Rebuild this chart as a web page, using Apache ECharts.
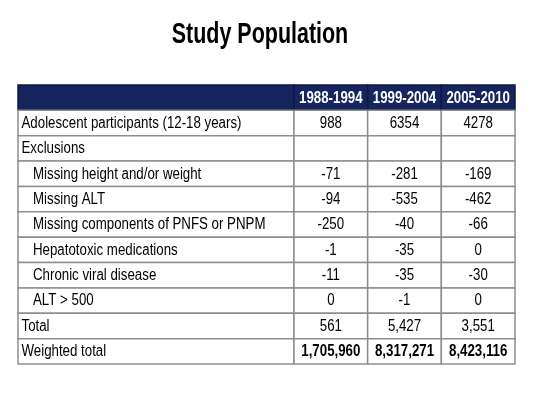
<!DOCTYPE html>
<html><head><meta charset="utf-8">
<script src="https://cdn.jsdelivr.net/npm/echarts@6/dist/echarts.min.js"></script>
<style>html,body{margin:0;padding:0;background:#fff}#c{width:533px;height:413px}</style>
</head><body><div id="c"></div>
<script>
const chartTitle = 'Study Population';
const periods = ['1988-1994', '1999-2004', '2005-2010'];
const rowLabels = ['Adolescent participants (12-18 years)', 'Exclusions', 'Missing height and/or weight', 'Missing ALT', 'Missing components of PNFS or PNPM', 'Hepatotoxic medications', 'Chronic viral disease', 'ALT > 500', 'Total', 'Weighted total'];
const indented = [false, false, true, true, true, true, true, true, false, false];
const v1988 = [988, null, -71, -94, -250, -1, -11, 0, 561, 1705960];
const v1999 = [6354, null, -281, -535, -40, -35, -35, -1, 5427, 8317271];
const v2005 = [4278, null, -169, -462, -66, 0, -30, 0, 3551, 8423116];
const commaRows = [false, false, false, false, false, false, false, false, true, true];
const boldRows = [false, false, false, false, false, false, false, false, false, true];

const FONT = '"Liberation Sans", Arial, sans-serif';
const NARROW = 0.83;
const NAVY = '#17255f';
const LINE = '#8e8e8e';
const rowsCat = ['header'].concat(rowLabels.map((_, i) => 'r' + i));
const columns = [v1988, v1999, v2005];

function fmt(v, r) {
  if (v === null) return '';
  return commaRows[r] ? v.toLocaleString('en-US') : String(v);
}

const labelCells = [{ value: [0, 0], text: '', header: true, indent: false, bold: false }];
rowLabels.forEach((l, i) => labelCells.push({ value: [0, i + 1], text: l, header: false, indent: indented[i], bold: false }));
const valueCells = [];
periods.forEach((p, c) => {
  valueCells.push({ value: [c, 0], text: p, header: true, bold: true });
  columns[c].forEach((v, r) => valueCells.push({ value: [c, r + 1], text: fmt(v, r), header: false, bold: boldRows[r] }));
});

function makeRender(cells, align) {
  return function (params, api) {
    const cell = cells[params.dataIndex];
    const c = api.coord([api.value(0), api.value(1)]);
    const s = api.size([1, 1]);
    const x0 = c[0] - s[0] / 2, y0 = c[1] - s[1] / 2;
    const tx = align === 'left' ? x0 + (cell.indent ? 15 : 3.5) : c[0];
    return {
      type: 'group',
      children: [
        {
          type: 'rect',
          shape: { x: x0, y: y0, width: s[0], height: s[1] },
          style: { fill: cell.header ? NAVY : '#ffffff', stroke: cell.header ? '#0e1945' : LINE, lineWidth: 1.5 }
        },
        {
          type: 'text',
          x: tx, y: c[1] + 0.5, scaleX: NARROW, scaleY: 1,
          style: {
            text: cell.text, fill: cell.header ? '#ffffff' : '#000000',
            font: (cell.bold ? 'bold ' : '') + '16px ' + FONT,
            align: align, verticalAlign: 'middle'
          }
        }
      ]
    };
  };
}

const chart = echarts.init(document.getElementById('c'), null, { renderer: 'canvas' });
chart.setOption({
  animation: false,
  backgroundColor: '#ffffff',
  graphic: [{
    type: 'text', x: 260, y: 35, scaleX: 0.74, scaleY: 1,
    style: { text: chartTitle, font: 'bold 29px ' + FONT, fill: '#000', align: 'center', verticalAlign: 'middle' }
  }],
  grid: [
    { left: 18, top: 85, width: 276, height: 279 },
    { left: 294, top: 85, width: 221, height: 279 }
  ],
  xAxis: [
    { type: 'category', gridIndex: 0, data: ['label'], show: false },
    { type: 'category', gridIndex: 1, data: periods, show: false }
  ],
  yAxis: [
    { type: 'category', gridIndex: 0, data: rowsCat, inverse: true, show: false },
    { type: 'category', gridIndex: 1, data: rowsCat, inverse: true, show: false }
  ],
  series: [
    { type: 'custom', xAxisIndex: 0, yAxisIndex: 0, data: labelCells.map(d => d.value), renderItem: makeRender(labelCells, 'left') },
    { type: 'custom', xAxisIndex: 1, yAxisIndex: 1, data: valueCells.map(d => d.value), renderItem: makeRender(valueCells, 'center') }
  ]
});
</script></body></html>
